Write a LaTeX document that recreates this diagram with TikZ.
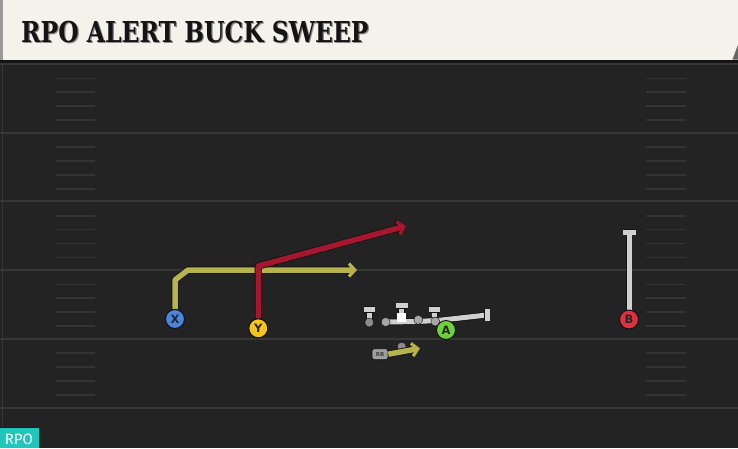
\documentclass[tikz,border=0pt]{standalone}
\usepackage{fontspec}
\setsansfont{Fira Sans}
\newfontfamily\titlefont{DejaVu Serif}
\newfontfamily\letterfont{DejaVu Sans}
\usetikzlibrary{arrows.meta}
\definecolor{fieldbg}{HTML}{232323}
\definecolor{yardline}{HTML}{373737}
\definecolor{hashc}{HTML}{343434}
\definecolor{cream}{HTML}{F5F2EB}
\definecolor{olive}{HTML}{B6B34C}
\definecolor{crimson}{HTML}{A6172F}
\definecolor{blockc}{HTML}{D0D0D0}
\definecolor{xblue}{HTML}{4A84DC}
\definecolor{yyellow}{HTML}{F5C51A}
\definecolor{bred}{HTML}{E0303F}
\definecolor{agreen}{HTML}{6FD13A}
\definecolor{teal}{HTML}{20C6BC}
\definecolor{dotgray}{HTML}{8C8C8C}
\definecolor{outl}{HTML}{121212}
\tikzset{
  player/.style={circle, draw=outl, line width=1pt, minimum size=19pt, inner sep=0pt,
    font=\letterfont\bfseries\fontsize{11.5}{11.5}\selectfont, text=black!85},
  arrowroute/.style={line width=5.5pt, line join=round,
    -{Straight Barb[length=6pt,width=13pt,line width=3.2pt]},
    preaction={draw=outl, line width=7.2pt, -{Straight Barb[length=6pt,width=13pt,line width=4.6pt]}}},
  blockline/.style={draw=blockc, line width=5pt, line join=round,
    preaction={draw=outl, line width=6.5pt}},
  lman/.style={circle, fill=dotgray, draw=outl, line width=0.4pt, minimum size=9pt, inner sep=0pt},
  yardln/.style={draw=yardline, line width=2pt},
  hashln/.style={draw=hashc, line width=1.8pt},
}
\begin{document}
\begin{tikzpicture}[x=1pt,y=-1pt]
\useasboundingbox (0,0) rectangle (738,448);
\fill[fieldbg] (0,0) rectangle (738,448);
% field edge
\draw[yardline, line width=1.5pt] (2.5,60) -- (2.5,448);
% yard lines and hash marks
\foreach \yy in {64,132.7,201.4,270,338.6,408} {
  \draw[yardln] (0,\yy) -- (738,\yy);
}
\foreach \yy in {64,132.7,201.4,270,338.6} {
  \foreach \oo in {14.5,28,42,56} {
    \draw[hashln] (56,\yy+\oo) -- (95,\yy+\oo);
    \draw[hashln] (646,\yy+\oo) -- (686,\yy+\oo);
  }
}
% header
\fill[black!92] (0,59) rectangle (738,63);
\fill[cream] (0,0) rectangle (738,59.5);
\fill[black!40] (0,0) rectangle (3,59.5);
\fill[black!60] (732.5,59.5) -- (737.5,46) -- (738,46) -- (738,59.5) -- cycle;
\node[anchor=base west, inner sep=0pt, text=black!45] (titleshadow) at (22.2,43.8)
  {\scalebox{0.815}[1]{\titlefont\bfseries\fontsize{28.8}{30}\selectfont RPO ALERT BUCK SWEEP}};
\node[anchor=base west, inner sep=0pt, text=black!92] (title) at (21,42.7)
  {\scalebox{0.815}[1]{\titlefont\bfseries\fontsize{28.8}{30}\selectfont RPO ALERT BUCK SWEEP}};

% ---- routes ----
\coordinate (xbend1) at (175,280);
\coordinate (xbend2) at (188,270);
\coordinate (xend) at (357,270);
\coordinate (ybend) at (258.3,266);
\coordinate (yend) at (406,226);
\coordinate (bend) at (629,232);

\node[player, fill=xblue] (X) at (175,319) {X};
\node[player, fill=yyellow] (Y) at (258.3,328.3) {Y};
\node[player, fill=bred] (B) at (629,319.5) {B};

\draw[arrowroute, olive] (X.north) -- (xbend1) -- (xbend2) -- (xend);
\draw[arrowroute, crimson] (Y.north) -- (ybend) -- (yend);
\draw[blockline] (B.north) -- (bend);
\draw[blockline] ([xshift=-6.5pt]bend) -- ([xshift=6.5pt]bend);
% redraw players on top
\node[player, fill=xblue] at (X) {X};
\node[player, fill=yyellow] at (Y) {Y};
\node[player, fill=bred] at (B) {B};

% ---- offensive line ----
\coordinate (lt) at (369.3,309.5);
\coordinate (ct) at (401.7,305.8);
\coordinate (rt) at (434.3,309.3);
\coordinate (pk1) at (440,320.2);
\coordinate (pend) at (487,315);
\coordinate (lg) at (385.7,322);
\draw[blockline] (369.3,322) -- (lt);
\draw[blockline] ([xshift=-5.8pt]lt) -- ([xshift=5.8pt]lt);
\draw[blockline] (401.7,318) -- (ct);
\draw[blockline] ([xshift=-5.8pt]ct) -- ([xshift=5.8pt]ct);
\draw[blockline] (434.6,321.5) -- (rt);
\draw[blockline] ([xshift=-5.8pt]rt) -- ([xshift=5.8pt]rt);
\draw[blockline] (lg) -- (418.3,321.5) -- (pk1) -- (pend);
\draw[blockline] ([yshift=6pt]pend) -- ([yshift=-6pt]pend);
\node[lman] (LT) at (369.3,322.5) {};
\node[lman, fill=black!35] (LG) at (lg) {};
\node[rectangle, fill=white, minimum size=9pt, inner sep=0pt] (C) at (401.7,317.5) {};
\node[lman, fill=black!35] (RG) at (418.3,319.8) {};
\node[lman, fill=black!35] (RT) at (435.3,321.5) {};
\node[player, fill=agreen] (A) at (446,330) {A};

% ---- running back ----
\node[lman] (RBdot) at (401.7,346.7) {};
\node[draw=outl, fill=black!38, line width=0.6pt, rounded corners=2.5pt, minimum width=16pt,
  minimum height=11pt, inner sep=0pt, font=\letterfont\bfseries\fontsize{5.5}{5.5}\selectfont, text=black!75]
  (RB) at (380,354.2) {RB};
\coordinate (rbend) at (420,348.3);
\draw[arrowroute, olive] (RB.east) -- (rbend);

% ---- RPO badge ----
\draw[red!35!black, line width=1pt] (0,427.3) -- (38.5,427.3);
\fill[teal] (0,427.8) rectangle (38.5,448);
\node[anchor=base, inner sep=0pt, text=white, font=\sffamily\fontsize{15}{15}\selectfont] (rpo) at (19,444.3) {RPO};
\end{tikzpicture}
\end{document}
